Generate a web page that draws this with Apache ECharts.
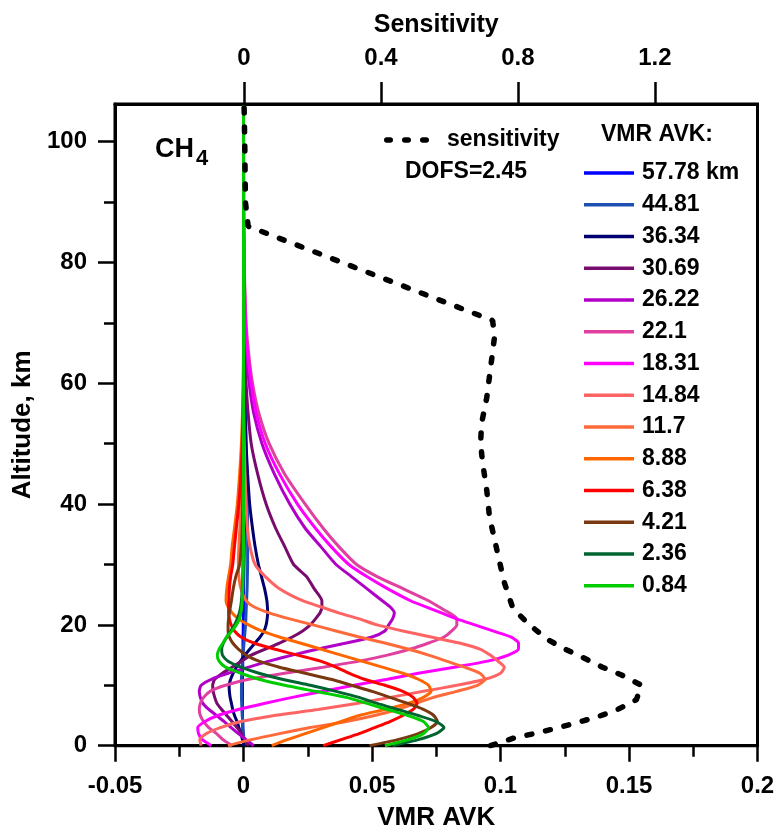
<!DOCTYPE html>
<html>
<head>
<meta charset="utf-8">
<script src="https://cdn.jsdelivr.net/npm/echarts@6/dist/echarts.min.js"></script>
<style>html,body{margin:0;padding:0;background:#fff}#c{width:776px;height:830px}</style>
</head>
<body>
<div id="c"></div>
<script>
// Altitude grid (km)
const ALT = [0,1,2,3,4,5,6,7,8,9,10,11,12,13,14,15,16,17,18,19,20,21,22,23,24,
             26,28,30,33,36,40,45,50,55,60,65,70,80,90,106];

const LABELS = ['57.78 km','44.81','36.34','30.69','26.22','22.1','18.31','14.84','11.7','8.88','6.38','4.21','2.36','0.84'];
const COLORS = ['#0000ff','#1e50b4','#000070','#780c6e','#b000c8','#e0409f','#ff00ff','#ff6464','#ff6a3a','#ff6600','#ff0000','#7a3810','#006430','#00cc00'];

const AVK_5778 = [0.0002,0.0000,-0.0002,-0.0003,-0.0003,-0.0004,-0.0004,-0.0004,-0.0004,-0.0004,-0.0004,-0.0004,-0.0004,-0.0003,-0.0003,-0.0003,-0.0002,-0.0002,-0.0002,-0.0001,-0.0001,-0.0001,0.0000,0.0000,0.0000,
  0.0000,0.0001,0.0002,0.0003,0.0004,0.0005,0.0007,0.0008,0.0009,0.0008,0.0006,0.0004,0.0002,0.0001,0.0000];
const AVK_4481 = [0.0004,0.0002,0.0000,-0.0002,-0.0003,-0.0005,-0.0006,-0.0007,-0.0008,-0.0008,-0.0008,-0.0008,-0.0007,-0.0006,-0.0004,-0.0002,0.0000,0.0002,0.0004,0.0006,0.0008,0.0009,0.0010,0.0011,0.0012,
  0.0014,0.0015,0.0016,0.0016,0.0016,0.0015,0.0013,0.0010,0.0007,0.0005,0.0003,0.0002,0.0001,0.0000,0.0000];
const AVK_3634 = [0.0003,-0.0004,-0.0010,-0.0018,-0.0025,-0.0035,-0.0042,-0.0047,-0.0052,-0.0055,-0.0056,-0.0050,-0.0040,-0.0028,-0.0012,0.0005,0.0025,0.0045,0.0065,0.0080,0.0088,0.0092,0.0094,0.0093,0.0091,
  0.0082,0.0070,0.0058,0.0045,0.0035,0.0024,0.0016,0.0010,0.0006,0.0003,0.0002,0.0001,0.0000,0.0000,0.0000];
const AVK_3069 = [0.0020,0.0005,-0.0008,-0.0025,-0.0045,-0.0065,-0.0085,-0.0103,-0.0112,-0.0118,-0.0120,-0.0112,-0.0082,-0.0045,-0.0008,0.0030,0.0085,0.0140,0.0190,0.0230,0.0260,0.0280,0.0298,0.0305,0.0305,
  0.0275,0.0245,0.0195,0.0160,0.0125,0.0088,0.0055,0.0030,0.0018,0.0010,0.0005,0.0002,0.0000,0.0000,0.0000];
const AVK_2622 = [0.0040,0.0010,-0.0020,-0.0048,-0.0075,-0.0105,-0.0135,-0.0158,-0.0168,-0.0172,-0.0165,-0.0125,-0.0060,0.0020,0.0100,0.0190,0.0290,0.0400,0.0500,0.0550,0.0565,0.0580,0.0587,0.0570,0.0540,
  0.0480,0.0420,0.0360,0.0300,0.0240,0.0180,0.0120,0.0072,0.0040,0.0022,0.0012,0.0006,0.0001,0.0000,0.0000];
const AVK_2210 = [-0.0044,-0.0080,-0.0105,-0.0135,-0.0155,-0.0168,-0.0172,-0.0168,-0.0155,-0.0130,-0.0070,0.0020,0.0160,0.0310,0.0450,0.0560,0.0650,0.0720,0.0780,0.0810,0.0830,0.0830,0.0800,0.0760,0.0720,
  0.0620,0.0520,0.0440,0.0370,0.0310,0.0240,0.0160,0.0100,0.0060,0.0035,0.0020,0.0010,0.0003,0.0000,0.0000];
const AVK_1831 = [-0.0125,-0.0160,-0.0175,-0.0178,-0.0150,-0.0100,-0.0020,0.0080,0.0190,0.0310,0.0430,0.0560,0.0680,0.0820,0.0950,0.1030,0.1070,0.1070,0.1040,0.0970,0.0900,0.0830,0.0770,0.0710,0.0650,
  0.0560,0.0480,0.0410,0.0340,0.0280,0.0210,0.0140,0.0085,0.0050,0.0030,0.0016,0.0008,0.0002,0.0000,0.0000];
const AVK_1484 = [-0.0165,-0.0170,-0.0145,-0.0090,-0.0010,0.0120,0.0290,0.0440,0.0570,0.0700,0.0830,0.0940,0.1000,0.1015,0.0990,0.0960,0.0920,0.0840,0.0730,0.0620,0.0520,0.0450,0.0370,0.0300,0.0230,
  0.0140,0.0085,0.0045,0.0025,0.0015,0.0010,0.0006,0.0003,0.0001,0.0000,0.0000,0.0000,0.0000,0.0000,0.0000];
const AVK_1170 = [-0.0060,0.0030,0.0140,0.0260,0.0400,0.0510,0.0600,0.0670,0.0740,0.0830,0.0910,0.0940,0.0920,0.0860,0.0790,0.0720,0.0640,0.0550,0.0450,0.0360,0.0270,0.0180,0.0100,0.0040,0.0010,
  -0.0010,-0.0018,-0.0020,-0.0018,-0.0014,-0.0010,-0.0006,-0.0003,-0.0001,0.0000,0.0000,0.0000,0.0000,0.0000,0.0000];
const AVK_888 = [0.0110,0.0170,0.0240,0.0310,0.0380,0.0450,0.0550,0.0640,0.0700,0.0730,0.0720,0.0680,0.0620,0.0540,0.0460,0.0380,0.0300,0.0220,0.0140,0.0070,0.0020,-0.0020,-0.0045,-0.0060,-0.0068,
  -0.0065,-0.0058,-0.0050,-0.0044,-0.0035,-0.0024,-0.0015,-0.0008,-0.0004,-0.0002,0.0000,0.0000,0.0000,0.0000,0.0000];
const AVK_638 = [0.0310,0.0380,0.0450,0.0510,0.0570,0.0620,0.0660,0.0675,0.0660,0.0620,0.0550,0.0470,0.0410,0.0360,0.0300,0.0210,0.0120,0.0040,-0.0010,-0.0035,-0.0048,-0.0055,-0.0058,-0.0058,-0.0057,
  -0.0055,-0.0050,-0.0042,-0.0035,-0.0028,-0.0018,-0.0010,-0.0005,-0.0002,0.0000,0.0000,0.0000,0.0000,0.0000,0.0000];
const AVK_421 = [0.0490,0.0600,0.0680,0.0730,0.0755,0.0740,0.0700,0.0640,0.0570,0.0500,0.0420,0.0340,0.0240,0.0140,0.0060,0.0010,-0.0020,-0.0042,-0.0055,-0.0060,-0.0060,-0.0058,-0.0055,-0.0051,-0.0047,
  -0.0040,-0.0030,-0.0015,-0.0008,-0.0005,-0.0003,-0.0002,-0.0001,0.0000,0.0000,0.0000,0.0000,0.0000,0.0000,0.0000];
const AVK_236 = [0.0580,0.0680,0.0750,0.0780,0.0750,0.0680,0.0600,0.0520,0.0450,0.0360,0.0260,0.0150,0.0060,-0.0010,-0.0060,-0.0082,-0.0085,-0.0078,-0.0065,-0.0050,-0.0035,-0.0024,-0.0016,-0.0011,-0.0008,
  -0.0005,-0.0003,-0.0002,-0.0001,0.0000,0.0000,0.0000,0.0000,0.0000,0.0000,0.0000,0.0000,0.0000,0.0000,0.0000];
const AVK_084 = [0.0550,0.0640,0.0700,0.0720,0.0700,0.0640,0.0560,0.0480,0.0400,0.0280,0.0160,0.0060,-0.0010,-0.0070,-0.0095,-0.0102,-0.0095,-0.0080,-0.0065,-0.0045,-0.0028,-0.0016,-0.0010,-0.0007,-0.0005,
  -0.0003,-0.0002,-0.0001,0.0000,0.0000,0.0000,0.0000,0.0000,0.0000,0.0000,0.0000,0.0000,0.0000,0.0000,0.0000];

const AVK = [AVK_5778,AVK_4481,AVK_3634,AVK_3069,AVK_2622,AVK_2210,AVK_1831,AVK_1484,AVK_1170,AVK_888,AVK_638,AVK_421,AVK_236,AVK_084];

// Sensitivity profile
const SENS_ALT = [0,1.3,2.1,2.9,3.8,4.8,5.9,7.6,10,11.7,13,14.7,16.2,17.8,20.3,22.8,26.9,30.3,34.1,37.9,42.3,46.8,50.1,53.4,57.6,63.8,67.8,70.4,86,90,100,106.2];
const SENS_VAL = [0.72,0.79,0.855,0.913,0.971,1.033,1.088,1.146,1.161,1.103,1.047,0.986,0.93,0.881,0.828,0.785,0.761,0.747,0.732,0.717,0.709,0.697,0.691,0.694,0.709,0.723,0.732,0.726,0.012,0.004,0.002,0.0];

const X_TICKS_TOP = [0,0.4,0.8,1.2];
const Y_MAJOR = [0,20,40,60,80,100];
const Y_MINOR = [10,30,50,70,90];

const FONT = '"Liberation Sans", Arial, sans-serif';
const chart = echarts.init(document.getElementById('c'), null, {renderer:'canvas'});

const series = [{
  name: 'sensitivity', type: 'line', xAxisIndex: 1, yAxisIndex: 0,
  data: SENS_ALT.map((h,i)=>[SENS_VAL[i], h]),
  symbol: 'none', showSymbol: false, smooth: false, z: 3,
  lineStyle: {color:'#000', width: 5.5, type: [5,14], cap: 'round'},
  itemStyle: {color:'#000'}
}];
AVK.forEach((vals, k) => {
  series.push({
    name: LABELS[k], type: 'line', xAxisIndex: 0, yAxisIndex: 0,
    data: ALT.map((h,i)=>[vals[i], h]),
    symbol: 'none', showSymbol: false, smooth: 0.2, z: 2,
    lineStyle: {color: COLORS[k], width: 3},
    itemStyle: {color: COLORS[k]}
  });
});

const tickLbl = {fontSize: 24, fontWeight: 'bold', color: '#000', fontFamily: FONT};
const DASH_ICON = 'path://M2.75,0h3.5a2.75,2.75 0 0 1 0,5.5h-3.5a2.75,2.75 0 0 1 0,-5.5z' +
  'M20.75,0h3.5a2.75,2.75 0 0 1 0,5.5h-3.5a2.75,2.75 0 0 1 0,-5.5z' +
  'M38.75,0h3.5a2.75,2.75 0 0 1 0,5.5h-3.5a2.75,2.75 0 0 1 0,-5.5z';

chart.setOption({
  animation: false,
  backgroundColor: '#fff',
  grid: {left: 115, right: 18.5, top: 104, bottom: 84.3, containLabel: false, outerBoundsMode: 'none',
         show: true, borderColor: '#000', borderWidth: 3, backgroundColor: 'transparent'},
  xAxis: [{
    type: 'value', position: 'bottom', min: -0.05, max: 0.2, interval: 0.05,
    name: 'VMR AVK', nameLocation: 'middle', nameGap: 59,
    nameTextStyle: {fontSize: 26, fontWeight: 'bold', color: '#000', fontFamily: FONT},
    axisLine: {show: true, onZero: false, lineStyle: {color: '#000', width: 3}},
    axisTick: {show: true, inside: false, length: 16, lineStyle: {color: '#000', width: 2.5}},
    minorTick: {show: true, splitNumber: 2, length: 11, lineStyle: {color: '#000', width: 2.5}},
    axisLabel: Object.assign({margin: 29}, tickLbl),
    splitLine: {show: false}, minorSplitLine: {show: false}
  }, {
    type: 'value', position: 'top', min: -0.377, max: 1.5,
    name: 'Sensitivity', nameLocation: 'middle', nameGap: 66,
    nameTextStyle: {fontSize: 25, fontWeight: 'bold', color: '#000', fontFamily: FONT},
    axisLine: {show: true, onZero: false, lineStyle: {color: '#000', width: 3}},
    axisTick: {show: true, inside: false, length: 22, customValues: X_TICKS_TOP, lineStyle: {color: '#000', width: 2.5}},
    axisLabel: Object.assign({margin: 34, customValues: X_TICKS_TOP, formatter: v => String(v)}, tickLbl),
    splitLine: {show: false}
  }],
  yAxis: [{
    type: 'value', position: 'left', min: 0, max: 106.24,
    name: 'Altitude, km', nameLocation: 'middle', nameGap: 76,
    nameTextStyle: {fontSize: 26, fontWeight: 'bold', color: '#000', fontFamily: FONT},
    axisLine: {show: true, onZero: false, lineStyle: {color: '#000', width: 3}},
    axisTick: {show: true, inside: false, length: 17, customValues: Y_MAJOR, lineStyle: {color: '#000', width: 2.5}},
    axisLabel: Object.assign({margin: 28, customValues: Y_MAJOR}, tickLbl),
    splitLine: {show: false}
  }, {
    type: 'value', position: 'left', min: 0, max: 106.24,
    axisLine: {show: false, onZero: false},
    axisTick: {show: true, inside: false, length: 11, customValues: Y_MINOR, lineStyle: {color: '#000', width: 2.5}},
    axisLabel: {show: false},
    splitLine: {show: false}
  }],
  legend: [{
    data: [{name: 'sensitivity', icon: DASH_ICON, itemStyle: {color: '#000'}}],
    left: 379, top: 123, itemWidth: 45, itemHeight: 5.5,
    selectedMode: false,
    textStyle: {fontSize: 23, lineHeight: 24, fontWeight: 'bold', color: '#000', fontFamily: FONT, padding: [0,0,0,13]}
  }, {
    data: LABELS.map(n => ({name: n, icon: 'rect'})), orient: 'vertical', left: 579, top: 156, itemWidth: 50, itemHeight: 3.5, itemGap: 7.75,
    selectedMode: false,
    textStyle: {fontSize: 23, lineHeight: 24, fontWeight: 'bold', color: '#000', fontFamily: FONT, padding: [0,0,0,3]}
  }],
  graphic: [
    {type: 'text', left: 155, top: 136, style: {text: 'CH', fontSize: 27, fontWeight: 'bold', fill: '#000', fontFamily: FONT}},
    {type: 'text', left: 196, top: 148, style: {text: '4', fontSize: 22, fontWeight: 'bold', fill: '#000', fontFamily: FONT}},
    {type: 'text', left: 405, top: 160, style: {text: 'DOFS=2.45', fontSize: 23, fontWeight: 'bold', fill: '#000', fontFamily: FONT}},
    {type: 'text', left: 601, top: 123, style: {text: 'VMR AVK:', fontSize: 23, fontWeight: 'bold', fill: '#000', fontFamily: FONT}}
  ],
  series: series
});
</script>
</body>
</html>
